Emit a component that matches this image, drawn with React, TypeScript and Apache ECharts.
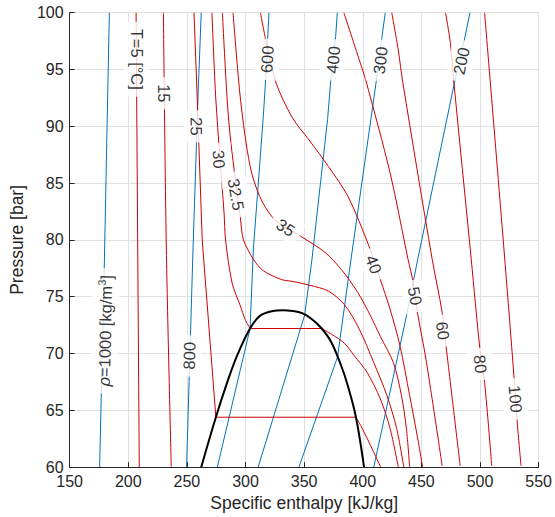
import React, { useEffect, useRef } from "react";
import * as echarts from "echarts";

// ---------- data (h [kJ/kg], P [bar]) ----------
const T5 = [[206.7, 100], [209.4, 60]];
const T15 = [[230, 100], [232.5, 79.2], [236.7, 60]];
const T25_liq = [[256.1, 100], [258.9, 92.3], [263.1, 80], [274.75, 64.39]];
const T25_two = [[274.75, 64.39], [394.2, 64.39]];
const T25_vap = [[394.2, 64.39], [398.3, 63.65], [403.9, 62.5], [409.4, 61.3], [415.3, 60]];
const T30_liq = [[271.4, 100], [274.75, 92.3], [281.7, 82.4], [283, 80], [288.6, 76.2], [295.6, 74.2], [299.7, 73], [303.9, 72.2]];
const T30_two = [[303.9, 72.2], [365, 72.2]];
const T30_vap = [[365, 72.2], [373.3, 71.7], [384.4, 70.9], [392.8, 69.8], [403.9, 68.3], [415, 66], [423.3, 63.4], [430.3, 60]];
const T32_5 = [[280.3, 100], [284.4, 92.3], [287.5, 88.6], [295.6, 81.95], [298.3, 80], [306.7, 78.3], [315, 77.3], [331, 76.5], [340, 76.35], [355, 76], [370.6, 75.5], [384.4, 74.3], [397, 72.15], [409.4, 69.2], [420.6, 66.3], [428.9, 63.4], [435, 60]];
const T35 = [[289.4, 100], [295.8, 92.3], [303.9, 86.5], [312.2, 83.8], [323.3, 81.95], [334.4, 81.1], [346.9, 80.33], [367.8, 78.9], [381.7, 77.4], [395.6, 75.4], [406.7, 73.3], [415, 71.5], [426.1, 69.2], [433, 66.3], [437.2, 63.4], [440, 60]];
const T40 = [[312.75, 100], [316.7, 97.9], [325.8, 93.9], [340, 90.75], [354.2, 88.8], [370.8, 86.45], [387.5, 83.8], [405.3, 79.45], [415, 76.5], [423.3, 73.9], [431.7, 70.7], [440, 66.3], [446, 63], [451.1, 60]];
const T50 = [[383.9, 100], [398.9, 95.26], [402.5, 94.09], [423.3, 85.9], [438.6, 78.3], [442.75, 76.38], [446.9, 73.46], [453.9, 69.5], [467.75, 60.1]];
const T60 = [[424.75, 100], [430.25, 96.73], [434.2, 93.83], [459.2, 78.3], [467.75, 73.6], [471.2, 70.5], [483.1, 60.1]];
const T80 = [[470.6, 100], [474.75, 97.31], [477.5, 94.09], [492.5, 78.3], [499.75, 70.54], [503.9, 67.47], [510, 60.1]];
const T100 = [[503.9, 100], [521.1, 78.3], [528.9, 68.04], [531.7, 63.95], [535, 60.1]];

const R1000 = [[183.9, 100], [179.7, 78.3], [175.6, 60]];
const R800 = [[262.25, 100], [259.4, 92.3], [255.25, 79.2], [249.75, 60]];
const R600 = [[320, 100], [317.2, 94.1], [315, 90.6], [306.7, 79.2], [303.9, 72.2], [276, 60]];
const R400 = [[378.3, 100], [376.9, 97.9], [372.75, 94.1], [370, 90.6], [356.7, 78.3], [350.5, 73.4], [310.8, 60]];
const R300 = [[419.2, 100], [416.4, 97.9], [411.7, 94.1], [390, 78.3], [378.5, 69.7], [345.6, 60]];
const R200 = [[491.4, 100], [487.25, 97.9], [478.3, 93.9], [446.9, 78.3], [437.25, 73.3], [409.4, 60]];

const dome = [[262.25, 60], [274.75, 64.39], [284.4, 67.46], [292.75, 69.8], [303.9, 72.2], [312.25, 73.31], [323.3, 73.75], [331.7, 73.81], [340, 73.75], [348.3, 73.55], [356.7, 73.02], [365, 72.2], [373.3, 70.97], [381.7, 68.9], [387.25, 67.16], [394.2, 64.39], [401.1, 60]];

const labelTexts = ["T=5 [°C]", "15", "25", "30", "32.5", "35", "40", "50", "60", "80", "100", "{i|ρ}{n|=1000 [kg/m}{s|3}{n|]}", "800", "600", "400", "300", "200"];
const labelH = [207.2, 230.8, 258.3, 277.5, 292, 334.4, 409.4, 444.7, 468.3, 500.3, 530.3, 180.3, 251.9, 318.3, 374.7, 415, 483.9];
const labelP = [95.9, 92.9, 90, 87.1, 84, 81.1, 77.85, 75.06, 72, 69.07, 66, 72, 69.8, 95.9, 95.85, 95.8, 95.76];
const labelRot = [-90, -90, -89, -86, -80, -33, -70, -78, -82, -84, -85, 88.7, 88.3, 87, 85, 83, 78];

const FONT = '"Liberation Sans", Arial, Helvetica, sans-serif';
const RED = "#cc0000";
const BLUE = "#0072bd";
const AX = "#262626";

export default function App() {
  const ref = useRef<HTMLDivElement>(null);
  useEffect(() => {
    const chart = echarts.init(ref.current!, null, { renderer: "svg" });
    const line = (data: number[][], color: string, width = 1, smooth: number | boolean = 0.3) => ({
      type: "line",
      data,
      symbol: "none",
      smooth,
      silent: true,
      lineStyle: { color, width },
      z: 2,
    });
    const blue = [R1000, R800, R600, R400, R300, R200].map((d) => line(d, BLUE, 1, false));
    const red = [
      line(T5, RED, 1, false),
      line(T15, RED, 1, 0.3),
      line(T25_liq, RED, 1, false),
      line(T25_two, RED, 1, false),
      line(T25_vap, RED, 1, 0.3),
      line(T30_liq, RED, 1, 0.3),
      line(T30_two, RED, 1, false),
      line(T30_vap, RED, 1, 0.3),
      line(T32_5, RED, 1, 0.3),
      line(T35, RED, 1, 0.3),
      line(T40, RED, 1, 0.3),
      line(T50, RED, 1, 0.3),
      line(T60, RED, 1, 0.3),
      line(T80, RED, 1, 0.3),
      line(T100, RED, 1, 0.3),
    ];
    const domeSeries = { ...line(dome, "#000", 2, 0.35), z: 3 };
    const LF = 16.5;
    const labels = {
      type: "scatter",
      symbolSize: 1,
      silent: true,
      itemStyle: { color: "rgba(0,0,0,0)" },
      z: 10,
      label: {
        show: true,
        position: "inside",
        color: "#000",
        fontSize: LF,
        fontFamily: FONT,
        backgroundColor: "#fff",
        padding: [4, 7],
        rich: {
          i: { fontStyle: "italic", fontSize: LF, fontFamily: FONT, color: "#000", lineHeight: 20 },
          n: { fontSize: LF, fontFamily: FONT, color: "#000", lineHeight: 20 },
          s: { fontSize: 11, fontFamily: FONT, color: "#000", lineHeight: 20, verticalAlign: "top" },
        },
      },
      data: labelTexts.map((t, k) => ({
        value: [labelH[k], labelP[k]],
        label: { formatter: t, rotate: labelRot[k] },
      })),
    };
    chart.setOption({
      animation: false,
      backgroundColor: "#fff",
      grid: { left: 62, right: 12.5, top: 12.7, bottom: 48.7, containLabel: false },
      xAxis: {
        type: "value",
        min: 150,
        max: 550,
        interval: 50,
        name: "Specific enthalpy [kJ/kg]",
        nameLocation: "middle",
        nameGap: 25,
        nameTextStyle: { fontSize: 17.5, color: AX, fontFamily: FONT },
        axisLine: { show: true, onZero: false, lineStyle: { color: AX, width: 1 } },
        axisTick: { show: true, inside: true, length: 5, lineStyle: { color: AX } },
        axisLabel: { fontSize: 16, color: AX, margin: 7, lineHeight: 14, fontFamily: FONT },
        splitLine: { show: true, lineStyle: { color: "#e0e0e0", width: 1 } },
      },
      yAxis: {
        type: "value",
        min: 60,
        max: 100,
        interval: 5,
        name: "Pressure [bar]",
        nameLocation: "middle",
        nameGap: 38,
        nameTextStyle: { fontSize: 17.5, color: AX, fontFamily: FONT },
        axisLine: { show: true, onZero: false, lineStyle: { color: AX, width: 1 } },
        axisTick: { show: true, inside: true, length: 5, lineStyle: { color: AX } },
        axisLabel: { fontSize: 16, color: AX, margin: 6, lineHeight: 10, fontFamily: FONT },
        splitLine: { show: true, lineStyle: { color: "#e0e0e0", width: 1 } },
      },
      series: [...blue, ...red, domeSeries, labels],
    });
    return () => chart.dispose();
  }, []);
  return (
    <div
      ref={ref}
      style={{ position: "fixed", left: 0, top: 0, width: 555, height: 517, background: "#fff" }}
    />
  );
}
